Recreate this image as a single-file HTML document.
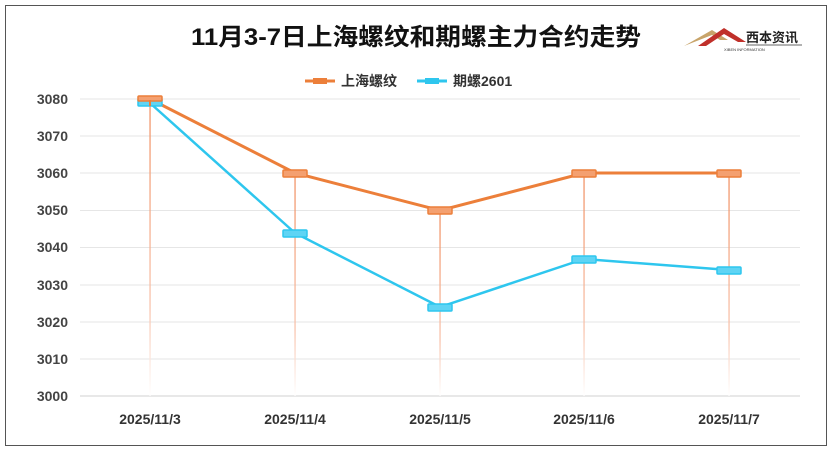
<!DOCTYPE html><html><head><meta charset="utf-8"><style>
body{margin:0;background:#fff;width:832px;height:454px;overflow:hidden}
svg text{font-family:"Liberation Sans","Noto Sans CJK SC",sans-serif}
</style></head><body>
<svg width="832" height="454" xmlns="http://www.w3.org/2000/svg">
<defs>
<linearGradient id="g" x1="0" y1="0" x2="0" y2="1"><stop offset="0" stop-color="#f08a5a"/><stop offset="0.7" stop-color="#f8c0a8"/><stop offset="1" stop-color="#fff"/></linearGradient>
</defs>
<rect x="5.5" y="5.5" width="821" height="440" fill="none" stroke="#555" stroke-width="1"/>
<text x="191" y="45" font-size="24" font-weight="bold" fill="#111" textLength="450" lengthAdjust="spacingAndGlyphs">11月3-7日上海螺纹和期螺主力合约走势</text>
<g transform="translate(684,22)">
<path d="M0 24 L28 8 L44 18 L36 18 L28 13 Z" fill="#c8a46a"/>
<path d="M14 24 L40 6 L62 20 L54 20 L40 12 L22 24Z" fill="#c0302a"/>
<text x="62" y="20" font-size="13" font-weight="bold" fill="#222">西本资讯</text>
<line x1="62" y1="23" x2="118" y2="23" stroke="#333" stroke-width="0.8"/>
<text x="40" y="29" font-size="4" fill="#333">XIBEN INFORMATION</text>
</g>
<g font-size="14" font-weight="bold" fill="#333">
<line x1="305" y1="81" x2="335" y2="81" stroke="#ec7f3a" stroke-width="3"/><rect x="313" y="78" width="14" height="6" fill="#ec7f3a"/>
<text x="341" y="86">上海螺纹</text>
<line x1="417" y1="81" x2="447" y2="81" stroke="#2ec6ee" stroke-width="3"/><rect x="425" y="78" width="14" height="6" fill="#2ec6ee"/>
<text x="453" y="86">期螺2601</text>
</g>
<g stroke="#e6e6e6" stroke-width="1">
<line x1="80" y1="99" x2="800" y2="99"/><line x1="80" y1="136" x2="800" y2="136"/><line x1="80" y1="173" x2="800" y2="173"/><line x1="80" y1="210.5" x2="800" y2="210.5"/><line x1="80" y1="247.5" x2="800" y2="247.5"/><line x1="80" y1="285" x2="800" y2="285"/><line x1="80" y1="322" x2="800" y2="322"/><line x1="80" y1="359" x2="800" y2="359"/>
</g>
<line x1="80" y1="396" x2="800" y2="396" stroke="#d0d0d0"/>
<g font-size="14" font-weight="bold" fill="#444" text-anchor="end">
<text x="68" y="104">3080</text><text x="68" y="141">3070</text><text x="68" y="178">3060</text><text x="68" y="215">3050</text><text x="68" y="252">3040</text><text x="68" y="290">3030</text><text x="68" y="327">3020</text><text x="68" y="364">3010</text><text x="68" y="401">3000</text>
</g>
<g font-size="14" font-weight="bold" fill="#333" text-anchor="middle">
<text x="150" y="424">2025/11/3</text><text x="295" y="424">2025/11/4</text><text x="440" y="424">2025/11/5</text><text x="584" y="424">2025/11/6</text><text x="729" y="424">2025/11/7</text>
</g>
<g fill="url(#g)" opacity="0.8">
<rect x="149.3" y="99" width="1.5" height="297"/><rect x="294.3" y="173" width="1.5" height="223"/><rect x="439.3" y="210" width="1.5" height="186"/><rect x="583.3" y="173" width="1.5" height="223"/><rect x="728.3" y="173" width="1.5" height="223"/>
</g>
<polyline points="150,103 295,233 440,307 584,259 729,270" fill="none" stroke="#2ec6ee" stroke-width="2.5"/>
<polyline points="150,99 295,173 440,210.5 584,173 729,173" fill="none" stroke="#ec7f3a" stroke-width="3"/>
<g fill="#5fd4f4" stroke="#2ec6ee" stroke-width="1.5">
<rect x="138" y="99" width="24" height="7" rx="1"/><rect x="283" y="230" width="24" height="7" rx="1"/><rect x="428" y="304" width="24" height="7" rx="1"/><rect x="572" y="256" width="24" height="7" rx="1"/><rect x="717" y="267" width="24" height="7" rx="1"/>
</g>
<g fill="#f4a070" stroke="#ec7f3a" stroke-width="1.5">
<rect x="138" y="96" width="24" height="5" rx="1"/><rect x="283" y="170" width="24" height="7" rx="1"/><rect x="428" y="207" width="24" height="7" rx="1"/><rect x="572" y="170" width="24" height="7" rx="1"/><rect x="717" y="170" width="24" height="7" rx="1"/>
</g>
<rect x="149" y="100" width="2" height="6" fill="#ec7f3a"/>
</svg>
</body></html>
